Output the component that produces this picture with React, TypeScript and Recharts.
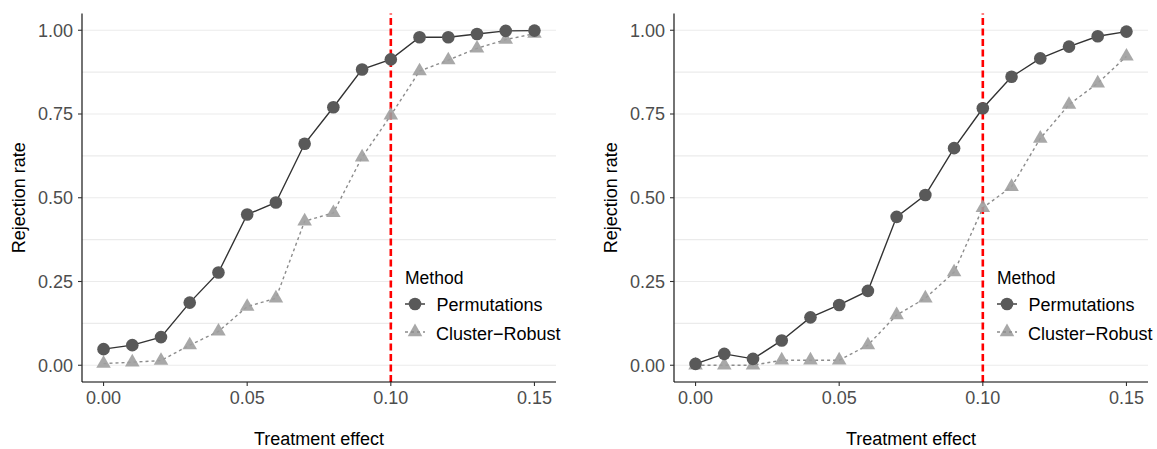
import React from 'react';
import { LineChart, Line, XAxis, YAxis, ReferenceLine, Legend, Label } from 'recharts';

// treatment effect grid shared by both simulations
const EFFECTS = [0, 0.01, 0.02, 0.03, 0.04, 0.05, 0.06, 0.07, 0.08, 0.09, 0.1, 0.11, 0.12, 0.13, 0.14, 0.15];

// left panel
const PERM_LEFT = [0.048, 0.06, 0.084, 0.187, 0.277, 0.45, 0.486, 0.661, 0.77, 0.883, 0.913, 0.979, 0.979, 0.989, 0.998, 0.999];
const CLUSTER_LEFT = [0.005, 0.009, 0.014, 0.06, 0.101, 0.175, 0.2, 0.43, 0.455, 0.621, 0.746, 0.878, 0.911, 0.946, 0.972, 0.99];

// right panel
const PERM_RIGHT = [0.004, 0.034, 0.019, 0.074, 0.143, 0.18, 0.222, 0.443, 0.508, 0.648, 0.767, 0.861, 0.916, 0.951, 0.982, 0.996];
const CLUSTER_RIGHT = [0, 0, 0, 0.015, 0.015, 0.015, 0.06, 0.15, 0.2, 0.278, 0.47, 0.533, 0.677, 0.778, 0.842, 0.922];

const X_TICKS = [0, 0.05, 0.1, 0.15];
const Y_TICKS = [0, 0.25, 0.5, 0.75, 1];
const Y_GRID = [0, 0.125, 0.25, 0.375, 0.5, 0.625, 0.75, 0.875, 1];
const CUTOFF = 0.1;

const FONT = '"Liberation Sans", Arial, Helvetica, sans-serif';
const PERM_COLOR = '#595959';
const PERM_LINE = '#333333';
const CLUSTER_COLOR = '#9E9E9E';
const CLUSTER_LINE = '#8C8C8C';

const CHART_W = 565;
const CHART_H = 449;

const trianglePoints = (cx: number, cy: number, r = 5.4) => {
  // equilateral triangle centred on its centroid, like R's pch 17
  const top = 1.555 * r;
  const half = 1.347 * r;
  const low = 0.778 * r;
  return `${cx},${cy - top} ${cx + half},${cy + low} ${cx - half},${cy + low}`;
};

const CircleDot = (props: any) => {
  const { cx, cy, index } = props;
  if (cx == null || cy == null) return null;
  return <circle key={`c-${index}`} cx={cx} cy={cy} r={6.3} fill={PERM_COLOR} />;
};

const TriangleDot = (props: any) => {
  const { cx, cy, index } = props;
  if (cx == null || cy == null) return null;
  return <polygon key={`t-${index}`} points={trianglePoints(cx, cy)} fill={CLUSTER_COLOR} fillOpacity={0.9} />;
};

const MethodLegend = () => (
  <svg width={172} height={90} style={{ display: 'block' }}>
    <rect x={0} y={0} width={172} height={90} fill="#fff" />
    <text x={12} y={22} fontSize={17.5} fill="#000" fontFamily={FONT}>Method</text>
    <line x1={12} x2={32} y1={42} y2={42} stroke={PERM_LINE} strokeWidth={1.4} />
    <circle cx={22} cy={42} r={6.3} fill={PERM_COLOR} />
    <text x={43.5} y={48.5} fontSize={18} fill="#000" fontFamily={FONT}>Permutations</text>
    <polygon points={trianglePoints(22, 70)} fill={CLUSTER_COLOR} fillOpacity={0.9} />
    <line x1={12} x2={32} y1={70} y2={70} stroke={CLUSTER_LINE} strokeWidth={1.4} strokeDasharray="3 3" />
    <text x={43} y={78} fontSize={18} fill="#000" fontFamily={FONT}>Cluster−Robust</text>
  </svg>
);

const Panel = ({ perm, cluster }: { perm: number[]; cluster: number[] }) => {
  const rows = EFFECTS.map((effect, i) => ({ effect, perm: perm[i], cluster: cluster[i] }));
  return (
    <LineChart
      width={CHART_W}
      height={CHART_H}
      data={rows}
      margin={{ top: 13.5, right: CHART_W - 82 - 474, bottom: 37, left: 22 }}
    >
      {Y_GRID.map((v) => (
        <ReferenceLine key={`g-${v}`} y={v} stroke="#EBEBEB" strokeWidth={1.1} />
      ))}
      <XAxis
        type="number"
        dataKey="effect"
        domain={[-0.0075, 0.1575]}
        allowDataOverflow
        ticks={X_TICKS}
        interval={0}
        tickFormatter={(v: number) => v.toFixed(2)}
        height={30}
        axisLine={{ stroke: '#000', strokeWidth: 1.1 }}
        tickLine={{ stroke: '#333', strokeWidth: 1.1 }}
        tickSize={4}
        tickMargin={5}
        tick={{ fill: '#4D4D4D', fontSize: 18, fontFamily: FONT }}
      >
        <Label
          content={({ viewBox }: any) => (
            <text
              x={viewBox.x + viewBox.width / 2}
              y={viewBox.y + 63}
              textAnchor="middle"
              fontSize={18}
              fill="#000"
              fontFamily={FONT}
            >
              Treatment effect
            </text>
          )}
        />
      </XAxis>
      <YAxis
        type="number"
        domain={[-0.05, 1.05]}
        allowDataOverflow
        ticks={Y_TICKS}
        interval={0}
        tickFormatter={(v: number) => v.toFixed(2)}
        width={60}
        axisLine={{ stroke: '#000', strokeWidth: 1.1 }}
        tickLine={{ stroke: '#333', strokeWidth: 1.1 }}
        tickSize={4}
        tickMargin={5}
        tick={{ fill: '#4D4D4D', fontSize: 18, fontFamily: FONT }}
      >
        <Label
          content={({ viewBox }: any) => {
            const x = viewBox.x + 2.6;
            const y = viewBox.y + viewBox.height / 2;
            return (
              <text x={x} y={y} transform={`rotate(-90, ${x}, ${y})`} textAnchor="middle" fontSize={18} fill="#000" fontFamily={FONT}>
                Rejection rate
              </text>
            );
          }}
        />
      </YAxis>
      <Line
        type="linear"
        dataKey="cluster"
        stroke={CLUSTER_LINE}
        strokeWidth={1.4}
        strokeDasharray="3 3"
        dot={TriangleDot}
        activeDot={false}
        isAnimationActive={false}
      />
      <Line
        type="linear"
        dataKey="perm"
        stroke={PERM_LINE}
        strokeWidth={1.4}
        dot={CircleDot}
        activeDot={false}
        isAnimationActive={false}
      />
      <ReferenceLine x={CUTOFF} stroke="#FF0000" strokeWidth={2.6} strokeDasharray="7 3.5" />
      <Legend
        layout="vertical"
        align="center"
        verticalAlign="middle"
        content={() => <MethodLegend />}
        wrapperStyle={{ position: 'absolute', left: 393, top: 262, width: 172, height: 90 }}
      />
    </LineChart>
  );
};

export default function App() {
  return (
    <div
      style={{
        position: 'absolute',
        left: 0,
        top: 0,
        width: 1157,
        height: 449,
        overflow: 'hidden',
        background: '#fff',
        fontFamily: FONT,
      }}
    >
      <div style={{ position: 'absolute', left: 0, top: 0 }}>
        <Panel perm={PERM_LEFT} cluster={CLUSTER_LEFT} />
      </div>
      <div style={{ position: 'absolute', left: 592, top: 0 }}>
        <Panel perm={PERM_RIGHT} cluster={CLUSTER_RIGHT} />
      </div>
    </div>
  );
}
